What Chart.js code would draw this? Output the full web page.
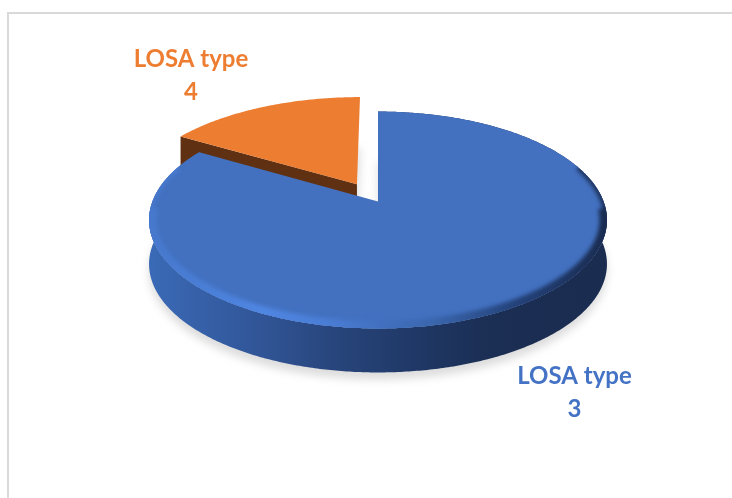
<!DOCTYPE html>
<html>
<head>
<meta charset="utf-8">
<title>LOSA type</title>
<script src="https://cdn.jsdelivr.net/npm/chart.js@4/dist/chart.umd.js"></script>
<style>
    html, body { margin: 0; padding: 0; background: #fff; overflow: hidden; }
    #wrap { position: relative; width: 732px; height: 498px; }
    #frame { position: absolute; left: 7px; top: 12px; right: 0; bottom: 0; border-left: 2px solid #d9d9d9; border-top: 2px solid #d9d9d9; }
    canvas { position: absolute; left: 0; top: 0; }
</style>
</head>
<body>
<div id="wrap">
    <div id="frame"></div>
    <canvas id="pie" width="732" height="498"></canvas>
</div>
<script>
const categories = ['LOSA type 3', 'LOSA type 4'];
const seriesValues = [83.5, 16.5];
const sliceColors = ['#4371c0', '#ed7d31'];
const labelColors = ['#4472c4', '#ed7d31'];
const sliceOffsets = [0, 44];

// Perspective of the tilted disc, u/v are unit disc coordinates (v = 1 is the front)
const view = { cx: 378, cy: 201.5, rx: 225.6, ry: 105.3, k: -0.1705, depth: 44 };

function project(u, v, depth) {
    const w = 1 + view.k * v;
    return { x: view.cx + view.rx * u / w, y: view.cy + view.ry * v / w + depth };
}

// Outline of one slice, taken from the angles Chart.js worked out
function sliceShape(el) {
    const offset = el.options.offset || 0;
    const mid = (el.startAngle + el.endAngle) / 2;
    const d = offset / el.outerRadius;
    const ou = Math.cos(mid) * d;
    const ov = Math.sin(mid) * d;
    // the pulled out slice reads a little larger in the reference
    const r = offset > 0 ? 1.025 : 1;
    const arc = [];
    const steps = Math.ceil((el.endAngle - el.startAngle) / 0.01);
    for (let i = 0; i <= steps; i++) {
        const a = el.startAngle + (el.endAngle - el.startAngle) * i / steps;
        arc.push([ou + r * Math.cos(a), ov + r * Math.sin(a)]);
    }
    return { apex: [ou, ov], arc: arc };
}

function tracePoly(ctx, pts, depth, joined) {
    pts.forEach((p, i) => {
        const q = project(p[0], p[1], depth);
        if (i === 0 && !joined) ctx.moveTo(q.x, q.y);
        else ctx.lineTo(q.x, q.y);
    });
}

function fillSlice(ctx, shape, depth, color) {
    ctx.beginPath();
    tracePoly(ctx, [shape.apex].concat(shape.arc), depth);
    ctx.closePath();
    ctx.fillStyle = color;
    ctx.fill();
}

function fillBand(ctx, pts, color) {
    ctx.beginPath();
    tracePoly(ctx, pts, 0);
    tracePoly(ctx, pts.slice().reverse(), view.depth, true);
    ctx.closePath();
    ctx.fillStyle = color;
    ctx.fill();
}

function wallGradient(ctx) {
    const g = ctx.createLinearGradient(149, 0, 607, 0);
    g.addColorStop(0, '#3a6ab6');
    g.addColorStop(0.2, '#33599d');
    g.addColorStop(0.42, '#27447a');
    g.addColorStop(0.58, '#1f3866');
    g.addColorStop(0.75, '#1b2e53');
    g.addColorStop(1, '#1a2c50');
    return g;
}

function bevelGradient(ctx) {
    const g = ctx.createLinearGradient(149, 0, 607, 0);
    g.addColorStop(0, '#4678cc');
    g.addColorStop(0.25, '#4f86e2');
    g.addColorStop(0.38, '#4a7ed6');
    g.addColorStop(0.5, '#4371c0');
    g.addColorStop(0.62, '#3a66ad');
    g.addColorStop(0.8, '#24427a');
    g.addColorStop(1, '#1a2c50');
    return g;
}

function strokeRim(ctx, front, fromV, width) {
    ctx.beginPath();
    tracePoly(ctx, front.arc.filter(p => p[1] > fromV), 0);
    ctx.strokeStyle = bevelGradient(ctx);
    ctx.lineWidth = width;
    ctx.stroke();
}

const pie3d = {
    id: 'pie3d',
    beforeDatasetsDraw(chart) {
        const ctx = chart.ctx;
        const arcs = chart.getDatasetMeta(0).data;
        const shapes = arcs.map(sliceShape);

        // soft shadow on the page under both slices
        ctx.save();
        ctx.filter = 'blur(4px)';
        shapes.forEach(s => fillSlice(ctx, s, view.depth + 7, '#dcdcdc'));
        ctx.restore();

        // orange slice sits behind the blue one, only its cut face shows
        const back = shapes[1];
        fillBand(ctx, [back.apex, back.arc[0]], '#5f3112');
        fillSlice(ctx, back, 0, arcs[1].options.backgroundColor);

        const front = shapes[0];
        fillBand(ctx, front.arc, wallGradient(ctx));
        fillSlice(ctx, front, 0, arcs[0].options.backgroundColor);

        // bevel along the front of the rim
        ctx.save();
        ctx.beginPath();
        tracePoly(ctx, [front.apex].concat(front.arc), 0);
        ctx.closePath();
        ctx.clip();
        ctx.filter = 'blur(2px)';
        strokeRim(ctx, front, -0.35, 6);
        strokeRim(ctx, front, 0.05, 15);
        ctx.restore();

        return false;
    },
    afterDraw(chart) {
        const ctx = chart.ctx;
        const spots = [[574.5, 384], [191, 67]];
        ctx.save();
        ctx.font = 'bold 24px Lato';
        ctx.textAlign = 'center';
        ctx.textBaseline = 'alphabetic';
        categories.forEach((name, i) => {
            const cut = name.lastIndexOf(' ');
            ctx.fillStyle = labelColors[i];
            ctx.fillText(name.slice(0, cut), spots[i][0], spots[i][1]);
            ctx.fillText(name.slice(cut + 1), spots[i][0], spots[i][1] + 32.5);
        });
        ctx.restore();
    }
};

new Chart(document.getElementById('pie'), {
    type: 'pie',
    data: {
        labels: categories,
        datasets: [{
            data: seriesValues,
            backgroundColor: sliceColors,
            offset: sliceOffsets,
            borderWidth: 0
        }]
    },
    options: {
        responsive: false,
        animation: false,
        plugins: {
            legend: { display: false },
            tooltip: { enabled: false }
        }
    },
    plugins: [pie3d]
});
</script>
</body>
</html>
